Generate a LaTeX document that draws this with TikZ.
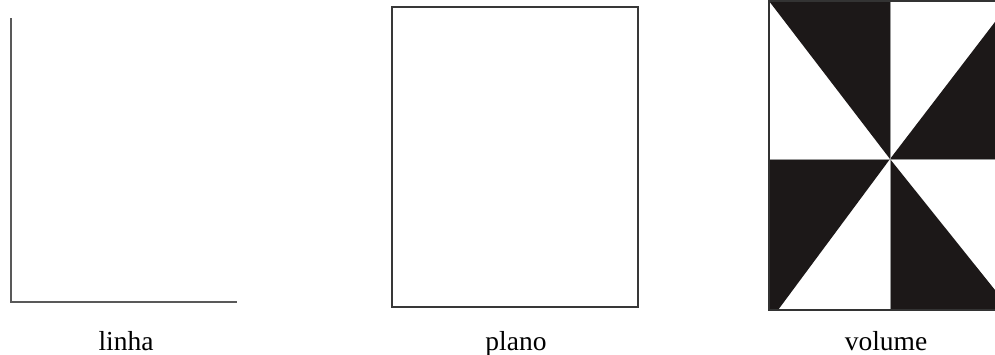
\documentclass[tikz,border=0pt]{standalone}
\usepackage{fontspec}
\setmainfont{Liberation Serif}
\definecolor{ink}{RGB}{28,24,24}
\begin{document}
\begin{tikzpicture}[x=1pt,y=-1pt,
  lbl/.style={font=\fontsize{27.5}{30}\selectfont, anchor=base, inner sep=0pt},
  edge/.style={line width=2pt, draw=black!65},
  frame/.style={line width=1.8pt, draw=black!78},
  blk/.style={fill=ink}]
\useasboundingbox (0,0) rectangle (995,354);
\fill[white] (0,0) rectangle (995,354);
% linha
\coordinate (lt) at (11,18);
\coordinate (lo) at (11,302);
\coordinate (lr) at (237,302);
\draw[edge] (lt) -- (lo) -- (lr);
% plano
\node[frame, minimum width=246pt, minimum height=300pt, inner sep=0pt, anchor=north west] (pl) at (391,6) {};
% volume
\coordinate (c) at (890,159);
\begin{scope}
\clip (769,1) rectangle (995,310);
\fill[blk] (769,1) -- (890,1) -- (c) -- cycle;
\fill[blk] (c) -- (1011,1) -- (1011,159) -- cycle;
\fill[blk] (769,159) -- (c) -- (778,310) -- (769,310) -- cycle;
\fill[blk] (c) -- (890,310) -- (1011,310) -- cycle;
\draw[black!40, line width=1pt] (890,1) -- (890,310);
\draw[black!40, line width=1pt] (769,159) -- (1011,159);
\end{scope}
\draw[line width=2.2pt, draw=black!80] (1011,310) -- (769,310) -- (769,1) -- (1011,1);
% labels
\node[lbl] (t1) at (126,350) {linha};
\node[lbl] (t2) at (516,350) {plano};
\node[lbl] (t3) at (886,350) {volume};
\end{tikzpicture}
\end{document}
